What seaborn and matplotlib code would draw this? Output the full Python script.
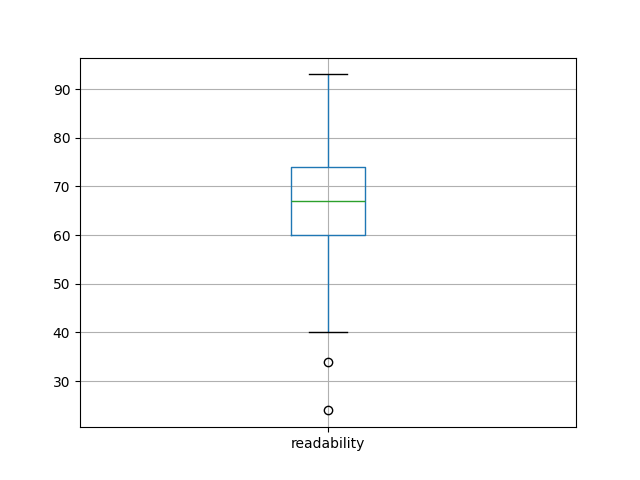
import pandas as pd
import seaborn as sns
import matplotlib
matplotlib.use("Agg")
import matplotlib.pyplot as plt

# readability scores (chosen so quartiles/whiskers/outliers match the chart)
readability = [24, 34, 40, 55, 60, 62, 64, 66, 67, 69, 71, 73, 74, 78, 84, 90, 93]

df = pd.DataFrame({"readability": readability})

fig, ax = plt.subplots(figsize=(6.4, 4.8), dpi=100)

sns.boxplot(
    data=df[["readability"]], ax=ax, width=0.15, fill=False, linewidth=1,
    boxprops=dict(color="#1f77b4"),
    whiskerprops=dict(color="#1f77b4"),
    medianprops=dict(color="#2ca02c"),
    capprops=dict(color="black"),
    flierprops=dict(marker="o", markerfacecolor="none", markeredgecolor="black",
                    markersize=6, linestyle="none"),
)

ax.grid(True)
ax.set_xlim(-0.5, 0.5)
ax.set_xlabel("")
ax.set_ylabel("")

plt.savefig("out.png", dpi=100)
plt.close()
